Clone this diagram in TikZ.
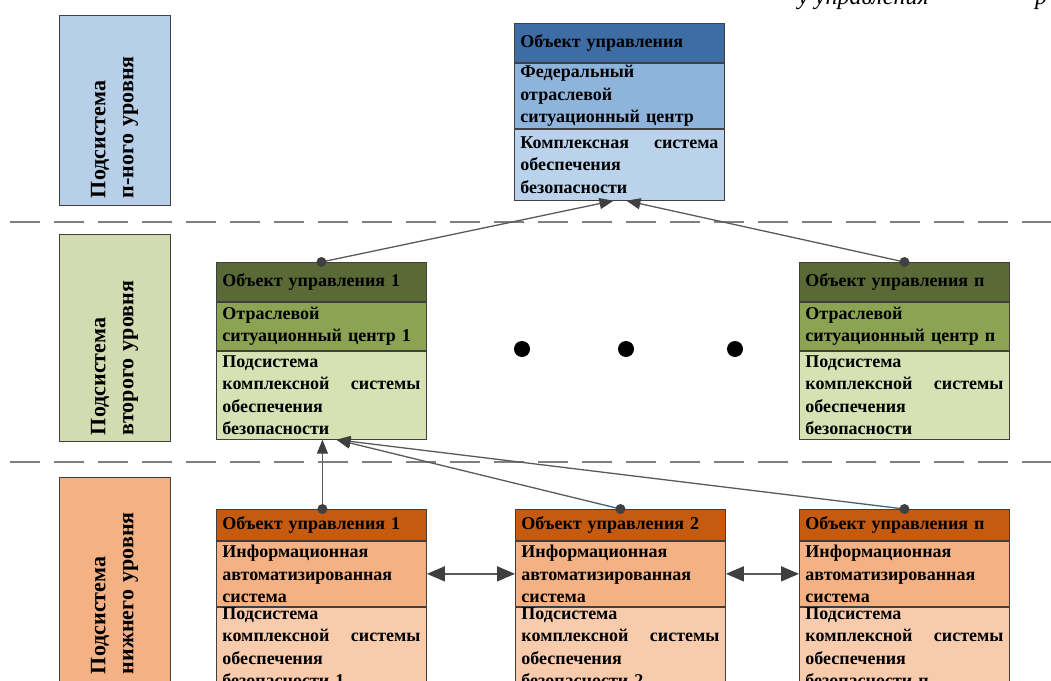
\documentclass[tikz,border=0pt]{standalone}
\usepackage{fontspec}
\setmainfont{Liberation Serif}
\usetikzlibrary{arrows.meta,calc}
\definecolor{bordc}{HTML}{404040}
\definecolor{lineC}{HTML}{5A5A5A}
\definecolor{tipC}{HTML}{3F3F3F}
\definecolor{dashC}{HTML}{7F7F7F}
\definecolor{tbH}{HTML}{3D6DA3}
\definecolor{tbM}{HTML}{8FB4DC}
\definecolor{tbL}{HTML}{BAD2EB}
\definecolor{lbB}{HTML}{B7CFE8}
\definecolor{grH}{HTML}{5A6A36}
\definecolor{grM}{HTML}{8CA354}
\definecolor{grL}{HTML}{D6E1B4}
\definecolor{lbG}{HTML}{D3DCB1}
\definecolor{orH}{HTML}{C55A11}
\definecolor{orM}{HTML}{F4B183}
\definecolor{orL}{HTML}{F8CBAD}
\definecolor{lbO}{HTML}{F4B183}
\newcommand\bodyf{\fontsize{18}{22.5}\selectfont\bfseries}
\newcommand\labf{\fontsize{22}{28}\selectfont\bfseries}
\begin{document}
\begin{tikzpicture}[x=1pt,y=-1pt,
  sec/.style={draw=bordc, line width=0.9pt, anchor=north west, minimum width=210pt,
    text width=198pt, inner xsep=6pt, inner ysep=0pt, align=left, font=\bodyf},
  lab/.style={draw=bordc, line width=0.9pt, rotate=90, minimum width=#1, minimum height=111pt,
    align=left, font=\labf, inner ysep=0pt},
  conn/.style={draw=lineC, line width=1.3pt, -{Triangle[length=14pt,width=11pt,fill=tipC,color=tipC]}},
  dbl/.style={draw=lineC, line width=1.6pt,
    {Triangle[length=18pt,width=15pt,fill=tipC,color=tipC]}-{Triangle[length=18pt,width=15pt,fill=tipC,color=tipC]}},
  sepline/.style={draw=dashC, line width=2pt, dash pattern=on 30pt off 14pt},
  bigdot/.style={fill=black},
  smalldot/.style={fill=tipC}]
\clip (0,0) rectangle (1051,680);

% clipped caption at the top
\node[font=\fontsize{24}{26}\selectfont\itshape, anchor=base west, inner sep=0pt] (cap1) at (798,5) {у управления};
\node[font=\fontsize{24}{26}\selectfont\itshape, anchor=base west, inner sep=0pt] (cap2) at (1035,5) {р};

% separators
\draw[sepline] (10,222) -- (1051,222);
\draw[sepline] (10,462) -- (1051,462);

% level labels
\node[lab=190pt, fill=lbB, text width=176pt, inner xsep=7pt] (L1) at (114.5,110) {Подсистема\\ п-ного уровня};
\node[lab=207pt, fill=lbG, text width=195pt, inner xsep=6pt] (L2) at (114.5,337.5) {Подсистема\\ второго уровня};
\node[lab=213pt, fill=lbO, text width=181pt, inner xsep=16pt] (L3) at (114.5,583.5) {Подсистема\\ нижнего уровня};

% top box
\node[sec, fill=tbH, minimum height=39pt] (tH) at (514,23) {Объект управления};
\node[sec, fill=tbM, minimum height=65pt] (tM) at (tH.south west) {Федеральный\\ отраслевой\\ ситуационный центр};
\node[sec, fill=tbL, minimum height=71pt] (tL) at (tM.south west) {Комплексная\hfill система\\ обеспечения\\ безопасности};

% second level
\node[sec, fill=grH, minimum height=39pt] (s1H) at (216,262) {Объект управления 1};
\node[sec, fill=grM, minimum height=48pt] (s1M) at (s1H.south west) {Отраслевой\\ ситуационный центр 1};
\node[sec, fill=grL, minimum height=88pt] (s1L) at (s1M.south west) {Подсистема\\ комплексной\hfill системы\\ обеспечения\\ безопасности};

\node[sec, fill=grH, minimum height=39pt] (snH) at (799,262) {Объект управления п};
\node[sec, fill=grM, minimum height=48pt] (snM) at (snH.south west) {Отраслевой\\ ситуационный центр п};
\node[sec, fill=grL, minimum height=88pt] (snL) at (snM.south west) {Подсистема\\ комплексной\hfill системы\\ обеспечения\\ безопасности};

\fill[bigdot] (522,349) circle (8pt);
\fill[bigdot] (626,349) circle (8pt);
\fill[bigdot] (735,349) circle (8pt);

% bottom level
\node[sec, fill=orH, minimum height=31pt] (b1H) at (216,509) {Объект управления 1};
\node[sec, fill=orM, minimum height=65pt] (b1M) at (b1H.south west) {Информационная\\ автоматизированная\\ система};
\node[sec, fill=orL, minimum height=78pt] (b1L) at (b1M.south west) {Подсистема\\ комплексной\hfill системы\\ обеспечения\\ безопасности 1};

\node[sec, fill=orH, minimum height=31pt] (b2H) at (515,509) {Объект управления 2};
\node[sec, fill=orM, minimum height=65pt] (b2M) at (b2H.south west) {Информационная\\ автоматизированная\\ система};
\node[sec, fill=orL, minimum height=78pt] (b2L) at (b2M.south west) {Подсистема\\ комплексной\hfill системы\\ обеспечения\\ безопасности 2};

\node[sec, fill=orH, minimum height=31pt] (bnH) at (799,509) {Объект управления п};
\node[sec, fill=orM, minimum height=65pt] (bnM) at (bnH.south west) {Информационная\\ автоматизированная\\ система};
\node[sec, fill=orL, minimum height=78pt] (bnL) at (bnM.south west) {Подсистема\\ комплексной\hfill системы\\ обеспечения\\ безопасности п};

% connector end points
\coordinate (tIn1) at ($(tL.south)+(-6,0)$);
\coordinate (tIn2) at ($(tL.south)+(7,0)$);
\coordinate (sIn1) at ($(s1L.south)+(1,0)$);
\coordinate (sIn2) at ($(s1L.south)+(15,0)$);
\coordinate (bOut1) at ($(b1H.north)+(1,0)$);

% connectors
\draw[conn] (s1H.north) -- (tIn1);
\draw[conn] (snH.north) -- (tIn2);
\draw[conn] (bOut1) -- (sIn1);
\draw[conn] (b2H.north) -- (sIn2);
\draw[conn] (bnH.north) -- (sIn2);
\fill[smalldot] (s1H.north) circle (5pt);
\fill[smalldot] (snH.north) circle (5pt);
\fill[smalldot] (bOut1) circle (5pt);
\fill[smalldot] (b2H.north) circle (5pt);
\fill[smalldot] (bnH.north) circle (5pt);

\draw[dbl] (b1M.east) -- (b2M.west);
\draw[dbl] (b2M.east) -- (bnM.west);
\end{tikzpicture}
\end{document}
